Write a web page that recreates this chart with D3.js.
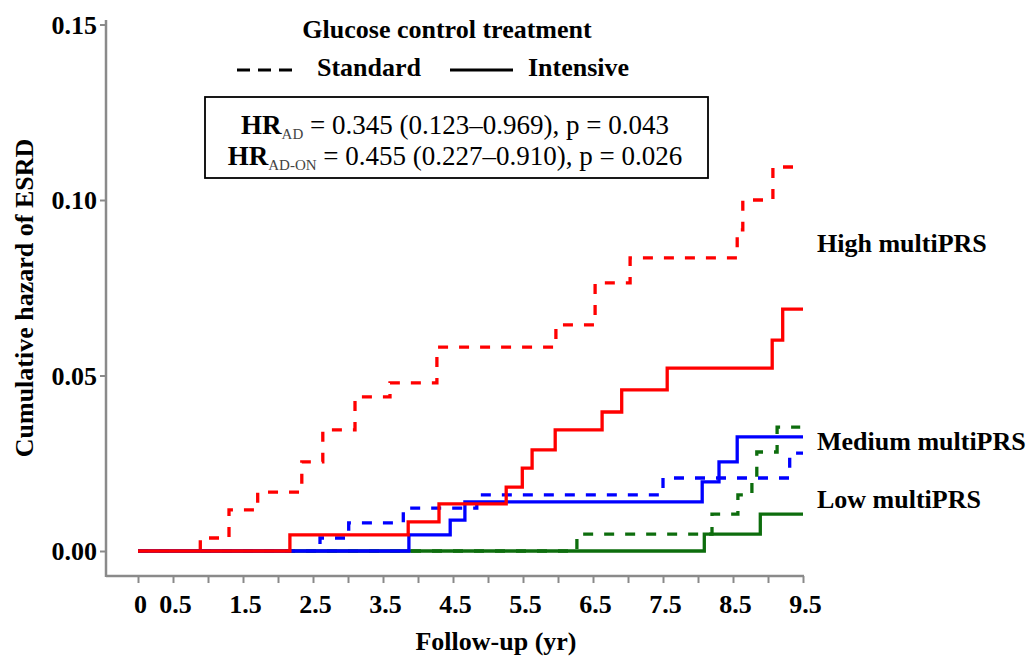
<!DOCTYPE html>
<html>
<head>
<meta charset="utf-8">
<script src="https://cdn.jsdelivr.net/npm/d3@7/dist/d3.min.js"></script>
<style>
  html, body { margin: 0; padding: 0; background: #fff; }
  svg { display: block; }
  text { font-family: "Liberation Serif", "Times New Roman", serif; fill: #000; }
</style>
</head>
<body>
<svg id="chart" width="1034" height="656"></svg>
<script>
// ---------------- DATA ----------------
const xTickValues = [0,0.5,1,1.5,2,2.5,3,3.5,4,4.5,5,5.5,6,6.5,7,7.5,8,8.5,9,9.5];
const xTickLabels = ["0","0.5","","1.5","","2.5","","3.5","","4.5","","5.5","","6.5","","7.5","","8.5","","9.5"];
const yTickValues = [0, 0.05, 0.10, 0.15];
const yTickLabels = ["0.00", "0.05", "0.10", "0.15"];

// High multiPRS
const highStdTime   = [0, 0.89, 1.30, 1.71, 2.34, 2.64, 3.10, 3.60, 4.27, 5.97, 6.53, 7.03, 8.56, 8.64, 9.07, 9.5];
const highStdHazard = [0, 0.0037, 0.0117, 0.0168, 0.0254, 0.0345, 0.0439, 0.0479, 0.0581, 0.0644, 0.0764, 0.0835, 0.0915, 0.1000, 0.1094, 0.1094];
const highIntTime   = [0, 2.17, 3.86, 4.30, 5.26, 5.49, 5.63, 5.96, 6.63, 6.91, 7.56, 9.06, 9.21, 9.5];
const highIntHazard = [0, 0.0046, 0.0083, 0.0134, 0.0182, 0.0236, 0.0288, 0.0345, 0.0396, 0.0459, 0.0521, 0.0601, 0.0689, 0.0689];
// Medium multiPRS
const medStdTime    = [0, 2.60, 3.01, 3.79, 4.84, 7.50, 9.31, 9.5];
const medStdHazard  = [0, 0.0037, 0.0080, 0.0122, 0.0160, 0.0208, 0.0279, 0.0279];
const medIntTime    = [0, 3.87, 4.46, 4.67, 8.06, 8.30, 8.56, 9.5];
const medIntHazard  = [0, 0.0046, 0.0088, 0.0140, 0.0197, 0.0254, 0.0325, 0.0325];
// Low multiPRS
const lowStdTime    = [0, 6.27, 8.20, 8.57, 8.77, 8.84, 9.13, 9.46];
const lowStdHazard  = [0, 0.0048, 0.0105, 0.0160, 0.0208, 0.0282, 0.0353, 0.0353];
const lowIntTime    = [0, 8.09, 8.89, 9.5];
const lowIntHazard  = [0, 0.0048, 0.0105, 0.0105];

const groupLabels = ["High multiPRS", "Medium multiPRS", "Low multiPRS"];
const groupLabelHazard = [0.0875, 0.0312, 0.0148];
const legendLabels = ["Standard", "Intensive"];
const titleText = "Glucose control treatment";

// ---------------- CHART ----------------
const svg = d3.select("#chart");
const x = d3.scaleLinear().domain([0, 9.5]).range([138, 803]);
const y = d3.scaleLinear().domain([0, 0.15]).range([551, 24.5]);

const RED = "#ff0000", BLUE = "#0000ff", GREEN = "#0d6d0d";
const AXIS = "#8a8a8a";

const zip = (t, h) => t.map((d, i) => [d, h[i]]);
const line = d3.line().x(d => x(d[0])).y(d => y(d[1])).curve(d3.curveStepAfter);

const series = [
  { t: lowStdTime,  h: lowStdHazard,  c: GREEN, dash: true },
  { t: medStdTime,  h: medStdHazard,  c: BLUE,  dash: true },
  { t: highStdTime, h: highStdHazard, c: RED,   dash: true },
  { t: lowIntTime,  h: lowIntHazard,  c: GREEN, dash: false },
  { t: medIntTime,  h: medIntHazard,  c: BLUE,  dash: false },
  { t: highIntTime, h: highIntHazard, c: RED,   dash: false }
];

svg.append("g").selectAll("path").data(series).join("path")
  .attr("d", d => line(zip(d.t, d.h)))
  .attr("fill", "none")
  .attr("stroke", d => d.c)
  .attr("stroke-width", 3.3)
  .attr("stroke-dasharray", d => d.dash ? "10,11" : null);

// Axes
const xAxis = d3.axisBottom(x).tickValues(xTickValues).tickSize(7).tickPadding(3)
  .tickFormat((d, i) => xTickLabels[i]);
const gx = svg.append("g").attr("transform", "translate(0,576)").call(xAxis);
gx.select(".domain").remove();
gx.selectAll(".tick line").attr("stroke", AXIS).attr("stroke-width", 2);
gx.selectAll(".tick text").attr("y", 37).attr("dy", 0).attr("dx", 2)
  .style("font-family", '"Liberation Serif", "Times New Roman", serif')
  .style("font-size", "26px").style("font-weight", "bold").attr("fill", "#000");
gx.append("line").attr("x1", 106).attr("x2", 804).attr("y1", 0).attr("y2", 0)
  .attr("stroke", AXIS).attr("stroke-width", 2.5);

const yAxis = d3.axisLeft(y).tickValues(yTickValues).tickSize(6).tickPadding(3)
  .tickFormat((d, i) => yTickLabels[i]);
const gy = svg.append("g").attr("transform", "translate(106,0)").call(yAxis);
gy.select(".domain").remove();
gy.selectAll(".tick line").attr("stroke", AXIS).attr("stroke-width", 2);
gy.selectAll(".tick text").attr("dy", "0.33em")
  .style("font-family", '"Liberation Serif", "Times New Roman", serif')
  .style("font-size", "26px").style("font-weight", "bold").attr("fill", "#000");
gy.append("line").attr("x1", 0).attr("x2", 0).attr("y1", 20).attr("y2", 577)
  .attr("stroke", AXIS).attr("stroke-width", 2.5);

// Axis titles
svg.append("text").attr("transform", "translate(33,298) rotate(-90)")
  .attr("text-anchor", "middle").style("font-size", "26px").style("font-weight", "bold")
  .text("Cumulative hazard of ESRD");
svg.append("text").attr("x", 496).attr("y", 650)
  .attr("text-anchor", "middle").style("font-size", "26px").style("font-weight", "bold")
  .text("Follow-up (yr)");

// Legend
svg.append("text").attr("x", 447).attr("y", 38).attr("text-anchor", "middle")
  .style("font-size", "26px").style("font-weight", "bold").text(titleText);
svg.append("line").attr("x1", 237).attr("x2", 297).attr("y1", 70).attr("y2", 70)
  .attr("stroke", "#000").attr("stroke-width", 3).attr("stroke-dasharray", "13,8");
svg.append("text").attr("x", 317).attr("y", 76)
  .style("font-size", "26px").style("font-weight", "bold").text(legendLabels[0]);
svg.append("line").attr("x1", 450).attr("x2", 513).attr("y1", 70).attr("y2", 70)
  .attr("stroke", "#000").attr("stroke-width", 3);
svg.append("text").attr("x", 528).attr("y", 76)
  .style("font-size", "26px").style("font-weight", "bold").text(legendLabels[1]);

// HR box
svg.append("rect").attr("x", 205).attr("y", 97).attr("width", 503).attr("height", 81)
  .attr("fill", "none").attr("stroke", "#000").attr("stroke-width", 1.8);
const hrLines = [
  { sub: "AD", rest: " = 0.345 (0.123\u20130.969), p = 0.043", yb: 134 },
  { sub: "AD-ON", rest: " = 0.455 (0.227\u20130.910), p = 0.026", yb: 165 }
];
hrLines.forEach(l => {
  const t = svg.append("text").attr("x", 455).attr("y", l.yb).attr("text-anchor", "middle")
    .style("font-size", "27px");
  t.append("tspan").style("font-weight", "bold").text("HR");
  t.append("tspan").attr("dy", 5).style("font-size", "15px").attr("fill", "#444").text(l.sub);
  t.append("tspan").attr("dy", -5).text(l.rest);
});

// Group labels
svg.append("g").selectAll("text").data(groupLabels).join("text")
  .attr("x", 817).attr("y", (d, i) => y(groupLabelHazard[i]))
  .attr("dy", "0.33em")
  .style("font-size", "26px").style("font-weight", "bold").text(d => d);
</script>
</body>
</html>
